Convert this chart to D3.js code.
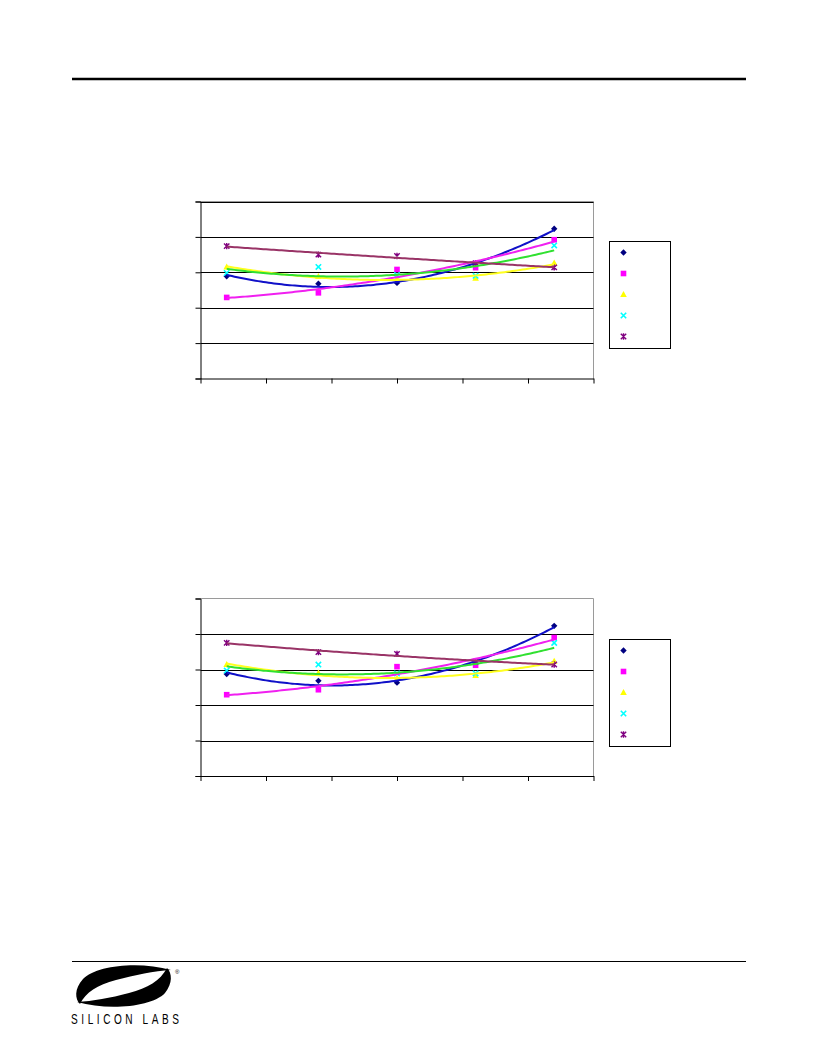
<!DOCTYPE html>
<html><head><meta charset="utf-8">
<script src="https://cdn.jsdelivr.net/npm/d3@7"></script>
<style>html,body{margin:0;padding:0;background:#fff;}svg{display:block;}</style>
</head><body>
<svg id="page" width="816" height="1056"></svg>
<script>
// ---- data ----
const xValues = [-40, -5, 25, 55, 85];
const xTicks = [-50, -25, 0, 25, 50, 75, 100];
const yTicks = [0, 1, 2, 3, 4, 5];
const seriesNames = ["s1", "s2", "s3", "s4", "s5"];
// chart 1
const c1Navy    = [2.89, 2.68, 2.70, 3.20, 4.23];
const c1Magenta = [2.29, 2.42, 3.08, 3.13, 3.92];
const c1Yellow  = [3.15, 2.88, 2.82, 2.83, 3.26];
const c1Cyan    = [2.98, 3.15, 2.92, 2.90, 3.76];
const c1Purple  = [3.74, 3.50, 3.46, 3.26, 3.14];
// chart 2
const c2Navy    = [2.87, 2.68, 2.63, 3.18, 4.23];
const c2Magenta = [2.29, 2.43, 3.08, 3.12, 3.90];
const c2Yellow  = [3.14, 2.90, 2.75, 2.83, 3.23];
const c2Cyan    = [2.97, 3.14, 2.89, 2.89, 3.75];
const c2Purple  = [3.75, 3.49, 3.44, 3.22, 3.14];

// ---- styles ----
const markerColors = ["#000080", "#ff00ff", "#ffff00", "#00ffff", "#800080"];
const trendColors  = ["#1010c8", "#f020f0", "#ffff20", "#30e030", "#993366"];
const markerTypes  = ["diamond", "square", "triangle", "x", "asterisk"];

const svg = d3.select("#page");

// header & footer rules
svg.append("line").attr("x1", 72).attr("x2", 746).attr("y1", 79).attr("y2", 79)
  .attr("stroke", "#000").attr("stroke-width", 2.5);
svg.append("line").attr("x1", 72).attr("x2", 746).attr("y1", 961.5).attr("y2", 961.5)
  .attr("stroke", "#000").attr("stroke-width", 1);

function quadFit(xs, ys) {
  // least squares y = a + b x + c x^2
  let n = xs.length, S = [0,0,0,0,0], T = [0,0,0];
  for (let i = 0; i < n; i++) {
    let x = xs[i], y = ys[i];
    for (let k = 0; k < 5; k++) S[k] += Math.pow(x, k);
    for (let k = 0; k < 3; k++) T[k] += y * Math.pow(x, k);
  }
  const M = [[S[0],S[1],S[2],T[0]],[S[1],S[2],S[3],T[1]],[S[2],S[3],S[4],T[2]]];
  for (let i = 0; i < 3; i++) {
    let p = M[i][i];
    for (let j = i; j < 4; j++) M[i][j] /= p;
    for (let r = 0; r < 3; r++) if (r !== i) {
      let f = M[r][i];
      for (let j = i; j < 4; j++) M[r][j] -= f * M[i][j];
    }
  }
  const a = M[0][3], b = M[1][3], c = M[2][3];
  return x => a + b * x + c * x * x;
}

function drawMarker(g, type, x, y, color) {
  if (type === "diamond") {
    g.append("path").attr("d", `M${x},${y-3.2}L${x+3.2},${y}L${x},${y+3.2}L${x-3.2},${y}Z`).attr("fill", color);
  } else if (type === "square") {
    g.append("rect").attr("x", x-2.8).attr("y", y-2.8).attr("width", 5.6).attr("height", 5.6).attr("fill", color);
  } else if (type === "triangle") {
    g.append("path").attr("d", `M${x},${y-3.5}L${x+3.3},${y+2.5}L${x-3.3},${y+2.5}Z`).attr("fill", color);
  } else if (type === "x") {
    g.append("path").attr("d", `M${x-2.7},${y-2.7}L${x+2.7},${y+2.7}M${x+2.7},${y-2.7}L${x-2.7},${y+2.7}`)
      .attr("stroke", color).attr("stroke-width", 1.6);
  } else {
    g.append("path").attr("d", `M${x-2.7},${y-2.7}L${x+2.7},${y+2.7}M${x+2.7},${y-2.7}L${x-2.7},${y+2.7}M${x},${y-3.2}L${x},${y+3.2}`)
      .attr("stroke", color).attr("stroke-width", 1.4);
  }
}

function drawChart(cfg) {
  const x = d3.scaleLinear().domain([xTicks[0], xTicks[xTicks.length-1]]).range([cfg.left, cfg.right]);
  const y = d3.scaleLinear().domain([0, 5]).range([cfg.bottom, cfg.top]);
  const g = svg.append("g");

  // plot area border (grey, top/right)
  g.append("path").attr("d", `M${cfg.left},${cfg.top}H${cfg.right}V${cfg.bottom}`)
    .attr("fill", "none").attr("stroke", "#9a9a9a").attr("stroke-width", 1);

  // gridlines
  g.selectAll(".grid").data(yTicks.filter(t => t > 0 && (cfg.topGrid || t < 5))).enter().append("line")
    .attr("x1", cfg.left).attr("x2", cfg.right)
    .attr("y1", d => Math.round(y(d)) + 0.5).attr("y2", d => Math.round(y(d)) + 0.5)
    .attr("stroke", "#000").attr("stroke-width", 1);

  // axes
  const yAxis = d3.axisLeft(y).tickValues(yTicks).tickSize(5).tickFormat("");
  g.append("g").attr("transform", `translate(${cfg.left},0)`).call(yAxis)
    .call(a => a.selectAll("path,line").attr("stroke", "#000"));
  const xAxis = d3.axisBottom(x).tickValues(xTicks).tickSize(5).tickSizeOuter(0).tickFormat("");
  g.append("g").attr("transform", `translate(0,${cfg.bottom})`).call(xAxis)
    .call(a => a.selectAll("path,line").attr("stroke", "#000"));

  // markers
  cfg.series.forEach((vals, si) => {
    vals.forEach((v, i) => drawMarker(g, markerTypes[si], x(xValues[i]), y(v), markerColors[si]));
  });

  // trendlines
  const line = d3.line().x(d => x(d[0])).y(d => y(d[1])).curve(d3.curveLinear);
  cfg.series.forEach((vals, si) => {
    const f = quadFit(xValues, vals);
    const xs = d3.range(xValues[0], xValues[xValues.length-1] + 0.001, 1);
    g.append("path").datum(xs.map(xx => [xx, f(xx)]))
      .attr("d", line).attr("fill", "none")
      .attr("stroke", trendColors[si]).attr("stroke-width", 2);
  });

  // legend
  g.append("rect").attr("x", cfg.legX + 0.5).attr("y", cfg.legY + 0.5)
    .attr("width", 61).attr("height", cfg.legH).attr("fill", "#fff")
    .attr("stroke", "#000").attr("stroke-width", 1);
  seriesNames.forEach((n, si) => {
    drawMarker(g, markerTypes[si], cfg.legX + 14.5, cfg.legY + 11.5 + si * 21, markerColors[si]);
  });
}

drawChart({left: 200.5, right: 593.5, top: 201.5, bottom: 378.5, topGrid: true,
  legX: 609, legY: 241, legH: 107,
  series: [c1Navy, c1Magenta, c1Yellow, c1Cyan, c1Purple]});
drawChart({left: 200.5, right: 593.5, top: 598.5, bottom: 776, topGrid: false,
  legX: 609, legY: 639, legH: 107,
  series: [c2Navy, c2Magenta, c2Yellow, c2Cyan, c2Purple]});

// logo
const logo = svg.append("g");
logo.append("path").attr("d",
  "M171,970 C140,961 96,965 83,979 C74,989 75,999 80,1004 " +
  "C86,992 97,985 116,980 C135,975 154,971 171,970 Z")
  .attr("fill", "#000");
logo.append("path").attr("d",
  "M77,1002 C108,1011 152,1007 165,993 C173,983 172,973 167,968 " +
  "C160,981 148,988 129,993 C110,998 93,1001 77,1002 Z")
  .attr("fill", "#000");
logo.append("text").attr("x", 175).attr("y", 974).attr("font-size", 6)
  .attr("font-family", "Liberation Sans, Arial, sans-serif").attr("fill", "#000").text("®");
logo.append("text").attr("transform", "translate(71,1024) scale(0.72,1)")
  .attr("font-family", "Liberation Sans, Arial, sans-serif")
  .attr("font-size", 14).attr("textLength", 150).attr("lengthAdjust", "spacing")
  .attr("fill", "#000").text("SILICON LABS");
</script>
</body></html>
